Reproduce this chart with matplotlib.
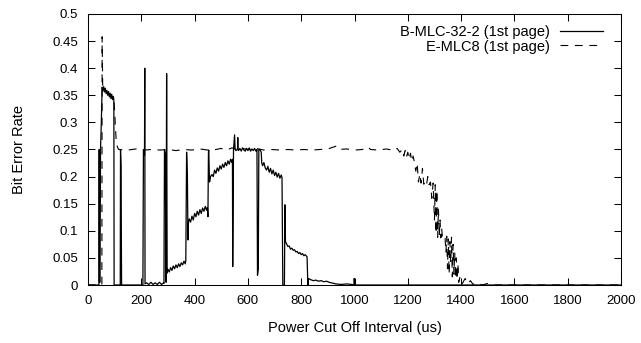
import matplotlib
matplotlib.use('Agg')
import matplotlib.pyplot as plt
from matplotlib.ticker import FuncFormatter, MultipleLocator

plt.rcParams['font.family'] = ['Liberation Sans', 'DejaVu Sans']

# B-MLC-32-2 (1st page)
mlc32_x = [0, 41, 42, 43, 45, 47, 50, 53, 56, 59, 62, 65, 68, 71, 74, 77, 80, 83, 86, 89, 92, 95, 97,
           98, 121, 122, 124, 126, 206, 208, 212, 213, 214,
           220, 228, 236, 244, 252, 260, 268, 276, 284, 285, 287, 290, 293, 295, 297,
           300, 305, 310, 315, 320, 325, 330, 335, 340, 345, 350, 355, 360, 365,
           367, 370, 373, 375, 377,
           380, 385, 390, 395, 400, 405, 410, 415, 420, 425, 430, 435, 440, 445, 448,
           450, 452, 453, 456,
           460, 465, 470, 475, 480, 485, 490, 495, 500, 505, 510, 515, 520, 525, 530, 535, 540, 542,
           543, 546, 550, 552, 555, 561, 562, 563, 565, 570, 575, 580, 585, 590, 595, 600, 605, 610,
           615, 620, 625, 630, 634, 636, 639, 641, 645, 650, 652,
           655, 660, 665, 670, 675, 680, 685, 690, 695, 700, 705, 710, 715, 720, 725, 728,
           731, 737, 739, 741,
           745, 750, 755, 760, 765, 770, 775, 780, 785, 790, 795, 800, 805, 810, 815, 820, 822,
           825, 828, 835, 845, 855, 865, 875, 885, 895, 905, 914, 930, 950, 970, 990,
           998, 999, 1001, 1010, 2000]
mlc32_y = [0, 0, 0.25, 0.005, 0.005, 0.25, 0.30, 0.365, 0.358, 0.366, 0.356, 0.363, 0.353, 0.359, 0.35,
           0.357, 0.347, 0.354, 0.344, 0.352, 0.342, 0.348, 0.342,
           0.0, 0.0, 0.25, 0.22, 0.0, 0.0, 0.25, 0.24, 0.40, 0.002,
           0.004, 0.001, 0.005, 0.001, 0.004, 0.001, 0.005, 0.001, 0.004, 0.003, 0.25, 0.24, 0.005, 0.39, 0.022,
           0.029, 0.024, 0.032, 0.027, 0.035, 0.030, 0.037, 0.032, 0.039, 0.034, 0.041, 0.037, 0.044, 0.039,
           0.045, 0.245, 0.20, 0.083, 0.115,
           0.122, 0.116, 0.127, 0.12, 0.132, 0.126, 0.136, 0.129, 0.139, 0.132, 0.142, 0.136, 0.145, 0.138, 0.143,
           0.126, 0.245, 0.249, 0.19,
           0.2, 0.204, 0.2, 0.212, 0.206, 0.216, 0.21, 0.22, 0.214, 0.223, 0.217, 0.226, 0.22, 0.229,
           0.223, 0.232, 0.226, 0.232,
           0.034, 0.25, 0.277, 0.25, 0.248, 0.25, 0.272, 0.25, 0.248, 0.252, 0.247, 0.253, 0.249, 0.247, 0.252,
           0.248, 0.253, 0.247, 0.251, 0.248, 0.252, 0.247, 0.25, 0.018, 0.03, 0.25, 0.25, 0.245, 0.225,
           0.22, 0.226, 0.216, 0.212, 0.219, 0.208, 0.215, 0.205, 0.212, 0.202, 0.208, 0.199, 0.206, 0.197,
           0.203, 0.198,
           0.0, 0.0, 0.148, 0.08,
           0.076, 0.071, 0.072, 0.066, 0.068, 0.064, 0.065, 0.061, 0.062, 0.058, 0.06, 0.056, 0.058, 0.054,
           0.056, 0.053, 0.052,
           0.0, 0.012, 0.01, 0.008, 0.009, 0.007, 0.008, 0.006, 0.007, 0.005, 0.004, 0.002, 0.001, 0.002, 0.001,
           0.0, 0.012, 0.0, 0.0, 0.0]

# E-MLC8 (1st page)
emlc8_x = [0, 52, 53, 55, 58, 62, 66, 70, 74, 78, 82, 86, 90, 94, 97, 100, 103, 106, 110, 115,
           120, 150, 180, 210, 240, 270, 300, 330, 360, 390, 420, 450, 480, 500, 520, 540, 560, 580,
           600, 630, 660, 690, 720, 750, 780, 810, 840, 870, 900, 930, 940, 970, 1000, 1030, 1050,
           1060, 1090, 1120, 1150,
           1160, 1170, 1180, 1185, 1190, 1195, 1200, 1205, 1210, 1215, 1220, 1225, 1230, 1235, 1240,
           1245, 1250, 1255, 1260, 1265, 1270, 1275, 1280, 1285, 1290, 1295, 1300, 1303, 1306, 1309,
           1312, 1315, 1318, 1321, 1324, 1327, 1330, 1335, 1340, 1343, 1346, 1349, 1352, 1355, 1358,
           1361, 1364, 1367, 1370, 1373, 1376, 1379, 1382, 1385, 1388, 1391, 1396, 1405, 1415, 1425,
           1435, 1445, 1460, 1480, 1500, 1520, 2000]
emlc8_y = [0, 0, 0.458, 0.37, 0.362, 0.36, 0.358, 0.356, 0.355, 0.353, 0.351, 0.349, 0.347, 0.345,
           0.343, 0.32, 0.29, 0.265, 0.255, 0.25,
           0.25, 0.249, 0.251, 0.249, 0.25, 0.249, 0.25, 0.248, 0.25, 0.249, 0.251, 0.249, 0.25, 0.252,
           0.249, 0.253, 0.25, 0.252, 0.25, 0.252, 0.249, 0.25, 0.249, 0.25, 0.249, 0.25, 0.249, 0.25,
           0.251, 0.256, 0.25, 0.251, 0.249, 0.25, 0.255, 0.25, 0.249, 0.251, 0.248,
           0.252, 0.245, 0.25, 0.238, 0.248, 0.236, 0.245, 0.232, 0.243, 0.228, 0.238, 0.226, 0.21,
           0.225, 0.19, 0.205, 0.188, 0.215, 0.186, 0.19, 0.184, 0.2, 0.185, 0.19, 0.16, 0.188, 0.12,
           0.185, 0.095, 0.175, 0.088, 0.14, 0.09, 0.12, 0.087, 0.105, 0.088, 0.092, 0.086, 0.06, 0.09,
           0.03, 0.085, 0.02, 0.08, 0.04, 0.088, 0.015, 0.075, 0.02, 0.06, 0.012, 0.05, 0.01, 0.04, 0.005,
           0.015, 0.003, 0.012, 0.002, 0.008, 0.001, 0.004, 0.0, 0.003, 0.0, 0.0]

x_ticks = list(range(0, 2001, 200))

fig = plt.figure(figsize=(6.41, 3.43), dpi=100)
ax = fig.add_axes([88 / 641, 1 - 285 / 343, (621 - 88) / 641, (285 - 14) / 343])

ax.plot(mlc32_x, mlc32_y, color='black', linewidth=0.9, label='B-MLC-32-2 (1st page)')
ax.plot(emlc8_x, emlc8_y, color='black', linewidth=0.8, dashes=(7, 6), label='E-MLC8 (1st page)')

ax.set_xlim(0, 2000)
ax.set_ylim(0, 0.5)
ax.set_xticks(x_ticks)
ax.yaxis.set_major_locator(MultipleLocator(0.05))
ax.yaxis.set_major_formatter(FuncFormatter(lambda v, p: '%g' % round(v, 2)))
ax.tick_params(direction='in', top=True, right=True, length=5, width=0.75, labelsize=9.5)
ax.tick_params(axis='x', pad=7)
ax.tick_params(axis='y', pad=7)
for s in ax.spines.values():
    s.set_linewidth(0.75)

ax.set_xlabel('Power Cut Off Interval (us)', fontsize=10.5, labelpad=10)
ax.set_ylabel('Bit Error Rate', fontsize=10.5, labelpad=19)

ax.legend(loc='upper right', bbox_to_anchor=(0.966, 0.96), frameon=False, markerfirst=False,
          fontsize=10.5, handlelength=2.95, handletextpad=0.7, labelspacing=0.05, borderpad=0,
          borderaxespad=0)

fig.savefig('out.png', dpi=100)
